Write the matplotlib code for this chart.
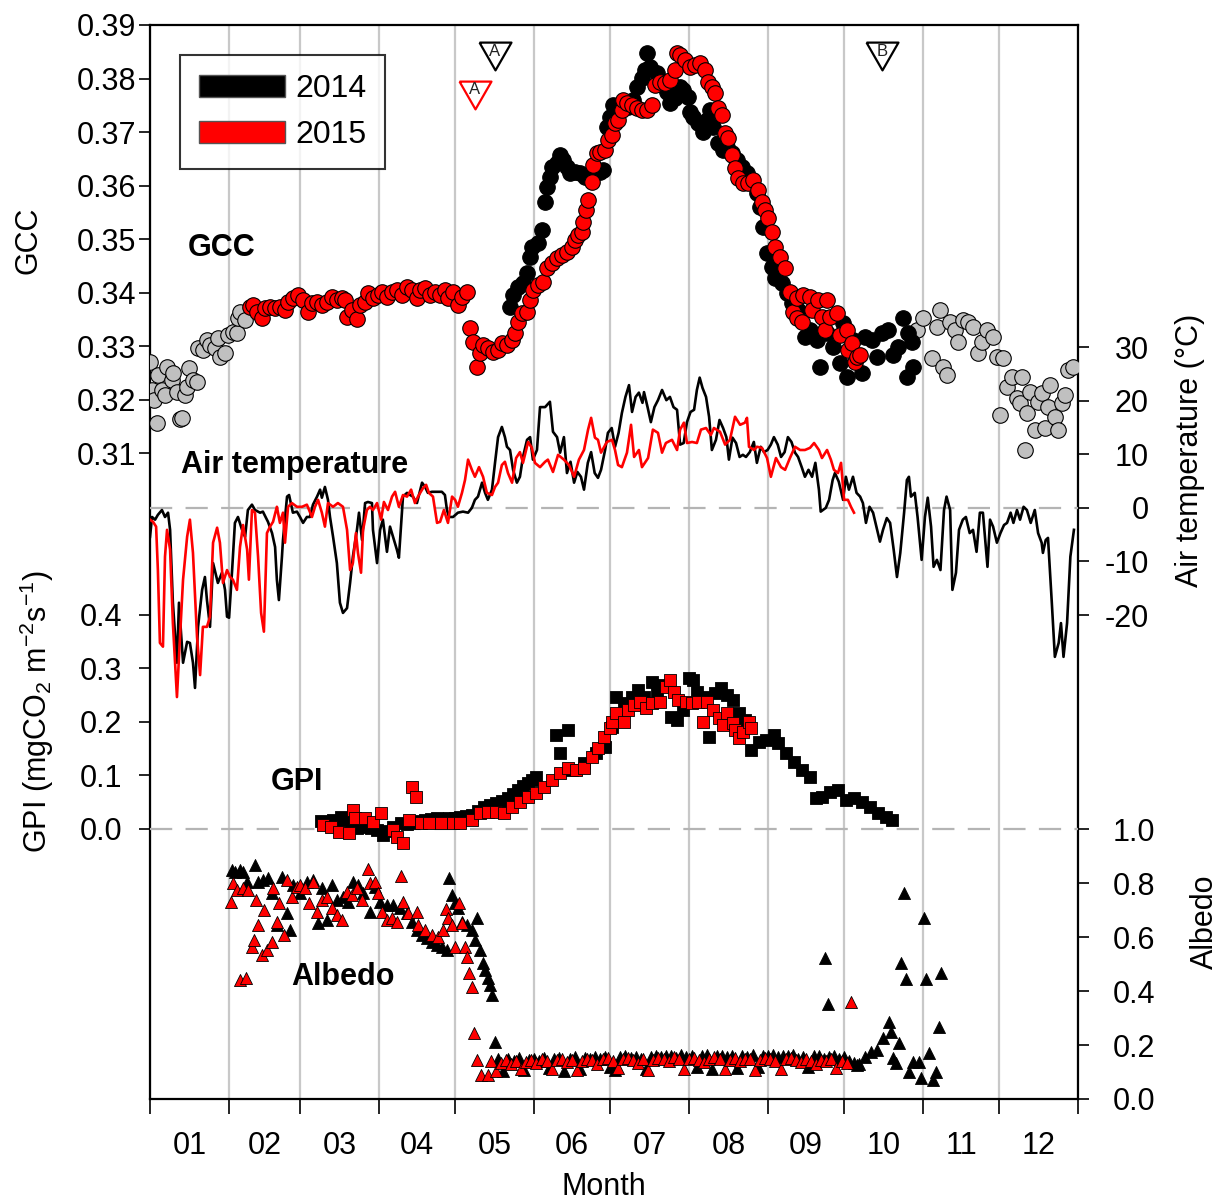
import numpy as np
import matplotlib
matplotlib.use("Agg")
import matplotlib.pyplot as plt
import matplotlib.patches as mpatches

plt.rcParams["font.family"] = ["Liberation Sans", "DejaVu Sans"]
plt.rcParams["mathtext.default"] = "regular"
plt.rcParams["axes.unicode_minus"] = False

# ---- data (day of year, value) ----
month_edges = [0, 31, 59, 90, 120, 151, 181, 212, 243, 273, 304, 334, 365]
month_mid = [15.5, 45, 74.5, 105, 135.5, 166, 196.5, 227.5, 258, 288.5, 319, 349.5]
month_labels = ["01", "02", "03", "04", "05", "06", "07", "08", "09", "10", "11", "12"]

# GCC, 2014 outside season (grey)
gcc_grey = [(0.0, 0.3270), (0.8, 0.3218), (1.6, 0.3199), (2.8, 0.3156), (3.1, 0.3246), (4.7, 0.3218),
            (5.9, 0.3208), (6.7, 0.3261), (8.7, 0.3236), (9.0, 0.3250), (10.6, 0.3214), (11.8, 0.3164),
            (12.6, 0.3165), (13.8, 0.3208), (14.6, 0.3223), (15.3, 0.3259), (16.9, 0.3236), (18.5, 0.3233),
            (18.9, 0.3296), (20.8, 0.3293), (22.4, 0.3311), (23.6, 0.3302), (25.6, 0.3296), (26.7, 0.3315),
            (27.5, 0.3279), (29.5, 0.3287), (30.7, 0.3321), (32.6, 0.3326), (34.2, 0.3324), (34.6, 0.3352),
            (35.4, 0.3364), (37.4, 0.3349),
            (301.7, 0.3330), (304.0, 0.3352), (307.6, 0.3278), (309.5, 0.3336), (310.7, 0.3367), (311.9, 0.3261),
            (313.5, 0.3246), (314.7, 0.3345), (316.6, 0.3330), (317.8, 0.3307), (319.8, 0.3349), (321.7, 0.3345),
            (323.7, 0.3336), (325.7, 0.3287), (327.2, 0.3307), (329.2, 0.3330), (331.6, 0.3317), (333.1, 0.3279),
            (335.5, 0.3278), (334.3, 0.3171), (337.1, 0.3223), (339.0, 0.3242), (341.0, 0.3203), (342.2, 0.3193),
            (343.0, 0.3242), (344.1, 0.3106), (344.9, 0.3175), (346.1, 0.3214), (348.1, 0.3143), (349.3, 0.3195),
            (350.8, 0.3212), (352.0, 0.3147), (353.2, 0.3186), (354.0, 0.3227), (355.9, 0.3167), (357.1, 0.3143),
            (358.7, 0.3193), (359.9, 0.3208), (361.0, 0.3255), (363.0, 0.3261)]

gcc_2014 = [(141.6, 0.3373), (142.8, 0.3395), (144.7, 0.3410), (146.7, 0.3418), (148.3, 0.3436), (149.5, 0.3466),
            (150.2, 0.3485), (152.6, 0.3493), (154.2, 0.3517), (155.4, 0.3569), (156.1, 0.3597), (157.3, 0.3616),
            (158.1, 0.3635), (160.1, 0.3642), (161.3, 0.3657), (162.4, 0.3648), (164.0, 0.3635), (165.2, 0.3623),
            (167.2, 0.3625), (169.1, 0.3623), (171.1, 0.3616), (173.1, 0.3616), (175.0, 0.3623), (177.0, 0.3625),
            (178.2, 0.3629), (179.7, 0.3709), (180.9, 0.3728), (182.1, 0.3750), (184.1, 0.3745), (186.0, 0.3754),
            (188.0, 0.3747), (190.0, 0.3760), (191.5, 0.3784), (193.5, 0.3801), (194.7, 0.3816), (195.5, 0.3848),
            (196.7, 0.3821), (199.4, 0.3810), (201.4, 0.3788), (203.3, 0.3775), (204.5, 0.3754), (206.5, 0.3764),
            (208.5, 0.3784), (209.6, 0.3779), (211.6, 0.3765), (212.4, 0.3737), (213.6, 0.3728), (215.5, 0.3717),
            (217.5, 0.3700), (219.1, 0.3722), (220.3, 0.3741), (221.4, 0.3709), (223.4, 0.3679), (225.4, 0.3666),
            (226.9, 0.3672), (228.9, 0.3661), (230.9, 0.3648), (232.8, 0.3635), (234.8, 0.3623), (236.8, 0.3605),
            (238.7, 0.3586), (239.9, 0.3560), (241.1, 0.3522), (242.7, 0.3474), (244.6, 0.3448), (245.8, 0.3427),
            (248.6, 0.3418), (250.5, 0.3399), (252.5, 0.3380), (254.9, 0.3367), (257.6, 0.3317), (259.6, 0.3330),
            (262.3, 0.3311), (263.5, 0.3261), (266.3, 0.3324), (268.6, 0.3298), (271.4, 0.3268), (272.6, 0.3343),
            (274.1, 0.3242), (276.5, 0.3311), (280.0, 0.3250), (281.2, 0.3317), (284.0, 0.3311), (285.9, 0.3279),
            (287.9, 0.3324), (290.3, 0.3330), (292.2, 0.3283), (294.2, 0.3298), (296.2, 0.3352), (298.1, 0.3324),
            (299.7, 0.3307), (300.1, 0.3261), (297.7, 0.3242)]

gcc_2015 = [(39.3, 0.3373), (40.5, 0.3377), (42.1, 0.3364), (44.1, 0.3352), (45.2, 0.3371), (47.2, 0.3373),
            (49.2, 0.3371), (51.1, 0.3373), (53.1, 0.3367), (54.3, 0.3382), (56.2, 0.3390), (58.2, 0.3395),
            (60.2, 0.3386), (62.1, 0.3364), (63.7, 0.3380), (65.7, 0.3382), (67.6, 0.3377), (69.6, 0.3382),
            (71.6, 0.3392), (73.5, 0.3386), (75.5, 0.3390), (76.7, 0.3386), (77.5, 0.3354), (79.4, 0.3367),
            (81.4, 0.3350), (82.6, 0.3377), (84.6, 0.3382), (85.7, 0.3399), (87.7, 0.3390), (89.7, 0.3395),
            (91.2, 0.3401), (93.2, 0.3392), (95.2, 0.3401), (97.1, 0.3405), (99.1, 0.3395), (101.1, 0.3410),
            (103.0, 0.3405), (105.0, 0.3390), (106.2, 0.3405), (108.2, 0.3408), (110.1, 0.3395), (112.1, 0.3401),
            (114.1, 0.3395), (116.0, 0.3405), (117.2, 0.3390), (119.2, 0.3401), (121.1, 0.3377), (122.7, 0.3392),
            (124.7, 0.3401), (125.9, 0.3334), (127.0, 0.3307), (128.6, 0.3261), (129.8, 0.3287), (131.0, 0.3302),
            (132.9, 0.3296), (134.9, 0.3289), (136.9, 0.3293), (138.4, 0.3306), (140.4, 0.3302), (142.4, 0.3311),
            (143.6, 0.3324), (144.7, 0.3345), (146.3, 0.3362), (148.3, 0.3364), (149.5, 0.3386), (150.6, 0.3405),
            (152.6, 0.3414), (154.6, 0.3420), (156.1, 0.3446), (158.1, 0.3455), (160.1, 0.3464), (162.0, 0.3470),
            (164.0, 0.3476), (166.0, 0.3485), (167.2, 0.3498), (168.3, 0.3507), (169.9, 0.3513), (170.3, 0.3532),
            (171.5, 0.3554), (172.3, 0.3573), (173.8, 0.3607), (174.2, 0.3638), (175.8, 0.3661), (177.0, 0.3663),
            (179.0, 0.3666), (180.1, 0.3685), (181.7, 0.3694), (182.9, 0.3717), (184.1, 0.3722), (185.6, 0.3741),
            (186.0, 0.3760), (187.6, 0.3754), (189.6, 0.3750), (191.5, 0.3745), (193.5, 0.3741), (195.5, 0.3741),
            (197.4, 0.3750), (198.6, 0.3788), (200.6, 0.3793), (202.6, 0.3792), (204.5, 0.3797), (206.5, 0.3816),
            (207.3, 0.3848), (208.5, 0.3844), (210.4, 0.3835), (212.4, 0.3821), (214.4, 0.3825), (216.3, 0.3829),
            (218.3, 0.3816), (219.5, 0.3793), (221.0, 0.3784), (222.2, 0.3773), (223.4, 0.3745), (225.0, 0.3732),
            (226.2, 0.3698), (227.3, 0.3689), (228.9, 0.3657), (230.1, 0.3633), (231.3, 0.3614), (233.2, 0.3605),
            (235.2, 0.3605), (237.2, 0.3610), (239.1, 0.3592), (240.7, 0.3569), (241.9, 0.3554), (243.1, 0.3539),
            (244.6, 0.3513), (245.8, 0.3485), (247.8, 0.3466), (249.8, 0.3446), (251.7, 0.3401), (252.9, 0.3364),
            (254.4, 0.3390), (254.6, 0.3352), (256.4, 0.3345), (256.8, 0.3395), (259.6, 0.3392), (260.4, 0.3367),
            (262.7, 0.3386), (264.3, 0.3354), (265.5, 0.3330), (266.3, 0.3386), (267.5, 0.3354), (270.2, 0.3362),
            (271.4, 0.3321), (274.1, 0.3330), (274.5, 0.3293), (276.1, 0.3306), (277.3, 0.3270), (278.1, 0.3279),
            (279.3, 0.3283)]

# daily air temperature (deg C)
temp_2014 = [(0.0, -5.4), (0.8, -1.7), (2.0, -2.2), (3.1, -1.3), (4.7, -0.4), (5.9, -1.7), (7.1, -0.9), (7.9, -4.1),
             (9.0, -17.7), (10.6, -28.9), (11.4, -17.7), (13.0, -28.9), (14.6, -25.0), (15.7, -25.2), (16.9, -28.9),
             (17.7, -33.6), (18.9, -22.2), (20.5, -15.3), (21.6, -12.9), (22.4, -17.2), (23.6, -22.2), (24.8, -10.3),
             (26.7, -14.0), (28.3, -12.1), (29.5, -15.3), (30.3, -20.3), (31.1, -20.5), (32.3, -11.6), (33.4, -2.8),
             (34.6, -1.7), (36.2, -4.1), (37.4, -5.4), (38.5, -0.4), (40.1, 0.6), (41.3, -0.4), (43.3, -0.9),
             (44.4, -0.7), (46.4, -2.6), (48.0, -4.7), (49.2, -7.3), (49.9, -13.4), (50.7, -17.2), (51.9, -9.1),
             (52.3, -6.0), (53.9, 2.1), (54.7, 2.4), (56.2, -0.9), (57.8, -0.7), (59.0, -1.7), (60.2, -2.8),
             (61.7, -1.7), (62.9, -1.7), (64.1, 0.6), (65.7, 2.1), (66.9, 3.4), (67.6, 1.9), (68.8, 3.9), (70.0, 1.5),
             (70.8, -1.7), (72.0, -5.4), (73.5, -10.3), (74.7, -17.7), (75.9, -19.6), (77.5, -18.7), (78.7, -14.0),
             (79.8, -9.1), (81.4, -4.1), (82.2, -0.9), (83.4, -6.0), (84.6, 0.9), (85.7, 1.1), (87.3, 0.9),
             (87.7, -4.1), (89.3, -10.3), (90.5, -4.1), (91.6, -2.2), (93.2, -8.2), (94.4, -3.5), (95.6, -5.4),
             (97.1, -7.8), (97.9, -9.3), (99.5, 2.1), (101.1, 2.8), (102.3, 2.4), (103.4, 2.1), (105.0, 0.9),
             (107.0, 4.7), (108.2, 3.9), (109.3, 2.8), (110.9, 3.0), (112.9, 3.0), (114.8, 3.0), (116.0, 2.4),
             (116.8, -0.4), (117.6, -1.7), (119.2, -1.7), (121.1, -0.9), (123.1, -0.7), (125.1, -0.9), (126.6, 0.0),
             (127.8, 1.5), (129.0, 2.1), (130.6, 4.7), (131.8, 2.8), (132.9, 1.5), (134.5, 3.4), (135.7, 8.4),
             (136.9, 13.2), (138.4, 15.1), (139.6, 13.2), (140.4, 11.4), (141.6, 10.8), (142.8, 7.1), (144.3, 4.7),
             (145.5, 5.8), (146.7, 9.5), (148.3, 12.7), (149.5, 13.2), (150.6, 9.0), (152.2, 10.8), (153.4, 18.8),
             (155.4, 18.8), (157.3, 19.8), (158.5, 14.2), (160.1, 13.2), (161.3, 10.3), (162.8, 13.2), (164.0, 6.5),
             (165.4, 8.6), (166.8, 4.7), (168.1, 6.7), (169.5, 5.8), (170.7, 3.4), (172.2, 8.4), (173.5, 10.4),
             (174.9, 6.5), (176.2, 5.6), (177.4, 7.1), (179.0, 10.8), (180.1, 14.0), (181.6, 14.9), (182.9, 11.4),
             (184.3, 14.0), (185.6, 17.7), (187.0, 20.7), (188.4, 22.9), (189.6, 17.9), (191.0, 20.7), (192.3, 21.5),
             (193.7, 19.6), (194.3, 21.6), (195.7, 18.8), (197.0, 16.0), (198.4, 18.8), (199.8, 20.1), (201.4, 22.0),
             (203.1, 20.1), (204.5, 20.7), (205.9, 18.8), (207.3, 18.3), (208.5, 11.8), (209.9, 12.1), (211.2, 16.0),
             (212.6, 17.9), (214.0, 18.3), (215.1, 22.0), (216.2, 24.3), (217.3, 22.4), (218.7, 20.7), (219.9, 17.0),
             (221.0, 10.8), (222.6, 12.7), (224.0, 16.4), (225.4, 14.9), (226.7, 13.2), (227.7, 9.0), (229.1, 13.1),
             (230.5, 12.1), (231.9, 9.5), (233.2, 9.9), (234.4, 9.5), (235.9, 10.4), (237.5, 12.3), (238.7, 8.4),
             (240.2, 11.4), (241.5, 10.4), (242.9, 10.8), (244.2, 11.8), (245.4, 13.2), (246.9, 11.8), (248.2, 9.5),
             (249.6, 10.4), (250.9, 13.2), (252.3, 12.3), (253.7, 10.3), (254.9, 9.5), (256.4, 7.5), (257.6, 5.8),
             (259.0, 7.1), (260.4, 5.8), (261.7, 8.4), (263.1, 3.4), (263.8, -0.7), (265.8, 0.0), (267.1, 1.5),
             (268.5, 5.2), (269.4, 6.5), (270.9, 4.9), (272.6, 1.5), (273.7, 5.8), (274.9, 3.4), (276.5, 5.8),
             (277.9, 2.8), (279.3, 2.1), (280.4, 0.9), (281.6, -2.8), (283.0, 0.2), (284.4, -0.9), (285.7, -3.5),
             (287.1, -6.3), (288.3, -4.1), (289.8, -1.9), (291.1, -2.8), (292.5, -7.8), (293.8, -12.9), (295.1, -8.4),
             (296.6, -0.9), (297.7, 5.2), (298.5, 5.8), (299.3, 2.1), (300.8, 2.8), (301.9, -1.7), (303.5, -9.7),
             (304.8, -1.7), (305.9, 1.9), (307.2, -3.5), (308.2, -11.0), (309.5, -9.7), (310.9, -11.6), (312.3, -0.4),
             (313.3, 2.1), (314.7, -0.4), (315.6, -15.3), (317.0, -12.1), (318.2, -4.1), (319.7, -2.2), (320.9, -1.7),
             (322.4, -4.7), (323.7, -4.1), (325.1, -8.2), (326.4, -0.9), (327.6, -0.9), (329.4, -11.0), (330.4, -2.2),
             (331.6, -3.5), (333.1, -6.5), (334.5, -4.7), (335.9, -3.2), (337.1, -2.8), (338.5, -0.9), (339.6, -2.8),
             (341.0, -0.4), (342.2, -2.2), (343.6, 0.2), (344.9, -0.4), (346.4, -2.8), (348.0, -0.4), (349.3, -4.7),
             (350.7, -6.5), (351.2, -8.4), (352.3, -6.0), (353.2, -5.6), (354.7, -17.7), (355.9, -27.8),
             (357.4, -25.2), (358.3, -21.5), (359.3, -27.8), (360.7, -21.5), (362.0, -9.1), (363.4, -4.1)]

temp_2015 = [(0.0, -2.2), (1.2, -2.6), (2.4, -3.5), (3.1, -11.6), (3.9, -25.2), (5.1, -25.9), (5.9, -9.1), (6.7, -4.1),
             (7.9, -7.8), (9.0, -21.5), (10.6, -35.3), (11.8, -24.1), (13.0, -13.4), (14.6, -5.4), (15.7, -2.2),
             (16.9, -8.4), (18.5, -24.1), (19.7, -31.2), (20.8, -22.2), (22.4, -22.2), (23.6, -20.3), (24.8, -6.5),
             (26.4, -3.7), (27.5, -6.5), (28.7, -14.0), (30.3, -11.6), (31.5, -12.9), (32.6, -13.4), (34.2, -15.3),
             (35.4, -7.3), (36.6, -3.2), (38.2, -7.8), (38.9, -13.4), (40.1, -0.4), (41.3, -0.9), (42.5, -9.1),
             (43.7, -19.6), (44.8, -23.1), (46.0, -4.7), (47.2, -3.5), (48.4, -2.6), (49.9, 0.2), (51.1, -2.8),
             (52.3, -0.9), (53.1, -6.5), (54.3, 0.2), (55.8, 0.9), (57.8, 0.2), (59.8, 0.2), (61.7, 0.6), (63.7, -1.7),
             (64.9, 0.2), (66.1, 1.5), (67.6, -0.9), (68.8, -3.5), (70.0, 0.9), (72.0, 0.2), (73.9, 0.9), (75.9, 0.2),
             (77.5, -4.1), (78.7, -11.6), (79.8, -10.3), (81.0, -4.7), (81.8, -8.4), (83.0, -12.1), (83.8, -4.1),
             (85.3, -0.4), (86.5, 0.2), (87.7, -0.4), (89.3, 0.9), (90.9, -2.2), (92.0, 1.1), (93.6, -0.4),
             (95.2, 2.1), (96.4, 3.0), (97.9, 0.2), (99.5, 2.4), (101.1, 2.1), (102.7, 3.4), (104.2, 0.9),
             (105.4, 2.1), (107.4, 3.7), (108.6, 4.3), (109.7, 2.8), (111.3, 2.1), (112.9, -2.8), (114.1, -2.6),
             (115.6, -0.4), (117.2, -2.8), (118.8, 2.1), (120.0, 1.5), (121.1, 0.2), (122.7, 2.8), (123.9, 5.2),
             (125.1, 9.0), (126.6, 7.1), (127.8, 5.8), (129.4, 7.6), (131.0, 5.8), (132.5, 2.8), (134.5, 2.4),
             (135.7, 3.9), (136.9, 4.7), (138.4, 8.0), (139.6, 8.6), (140.8, 6.5), (142.4, 4.7), (144.0, 9.3),
             (145.5, 10.4), (146.7, 8.4), (148.7, 12.3), (150.2, 11.2), (151.4, 8.4), (153.4, 7.6), (155.4, 8.6),
             (156.5, 9.0), (158.5, 6.7), (160.5, 9.9), (162.8, 9.0), (164.8, 8.0), (166.8, 5.8), (168.7, 9.0),
             (170.7, 10.8), (172.3, 14.6), (173.5, 16.8), (175.0, 13.1), (176.2, 12.7), (177.4, 10.3), (179.7, 12.3),
             (181.7, 12.7), (182.9, 10.8), (184.1, 8.0), (185.6, 7.6), (187.6, 10.3), (189.2, 15.5), (190.4, 9.5),
             (192.3, 10.8), (193.5, 7.6), (195.9, 9.3), (197.8, 14.6), (199.8, 14.0), (201.4, 10.3), (202.9, 12.1),
             (205.3, 12.7), (207.3, 10.8), (208.5, 14.6), (210.0, 15.9), (211.2, 12.1), (213.2, 12.3), (215.1, 12.1),
             (216.7, 14.6), (218.7, 14.9), (220.6, 13.6), (221.8, 14.9), (224.2, 14.2), (226.2, 11.8), (228.1, 12.7),
             (230.1, 17.0), (232.1, 15.5), (234.0, 15.9), (234.8, 16.8), (235.6, 11.4), (237.6, 10.8), (238.7, 11.4),
             (240.7, 11.2), (242.7, 9.3), (244.2, 5.8), (246.2, 9.3), (248.2, 7.6), (249.8, 7.1), (251.7, 9.3),
             (253.7, 11.4), (255.7, 10.8), (257.6, 10.8), (259.6, 11.2), (261.2, 12.1), (263.1, 10.8), (264.3, 9.3),
             (266.3, 10.8), (267.8, 9.0), (269.0, 7.1), (270.6, 6.5), (271.8, 8.4), (273.0, 1.5), (274.5, 1.5),
             (275.7, 0.2), (276.9, -0.9)]

# GPI (mgCO2 m-2 s-1)
gpi_2014 = [(67.3, 0.014), (69.5, 0.012), (72.0, 0.017), (75.1, 0.022), (76.8, 0.015), (78.3, 0.011),
            (80.0, 0.006), (81.4, 0.002), (84.6, 0.004), (87.0, 0.001), (89.3, -0.002), (91.6, -0.011),
            (93.5, -0.004), (95.6, 0.004), (98.7, 0.011), (101.0, 0.009), (103.4, 0.011), (106.0, 0.014),
            (108.2, 0.017), (110.5, 0.018), (112.9, 0.020), (115.2, 0.019), (117.6, 0.020), (119.8, 0.021),
            (121.9, 0.022), (124.2, 0.024), (126.6, 0.026), (129.0, 0.033), (131.4, 0.041), (133.8, 0.045),
            (136.1, 0.049), (138.5, 0.053), (140.8, 0.057), (142.8, 0.065), (144.7, 0.073), (146.7, 0.080),
            (148.7, 0.086), (150.2, 0.092), (151.8, 0.098), (159.7, 0.176), (164.4, 0.185), (161.3, 0.142),
            (166.0, 0.110), (170.7, 0.123), (175.4, 0.142), (179.0, 0.153), (181.7, 0.191), (183.3, 0.247),
            (186.4, 0.235), (189.6, 0.247), (191.9, 0.260), (194.3, 0.247), (197.4, 0.275), (199.4, 0.256),
            (201.8, 0.269), (204.9, 0.209), (207.3, 0.204), (209.6, 0.222), (212.0, 0.282), (213.6, 0.278),
            (215.1, 0.256), (217.5, 0.247), (219.9, 0.172), (222.2, 0.254), (224.6, 0.263), (226.9, 0.250),
            (229.3, 0.241), (231.7, 0.216), (234.0, 0.204), (236.4, 0.148), (239.5, 0.163), (242.3, 0.166),
            (245.4, 0.176), (247.0, 0.161), (250.1, 0.142), (253.3, 0.125), (256.4, 0.110), (259.6, 0.098),
            (261.9, 0.058), (264.3, 0.060), (267.5, 0.069), (270.6, 0.073), (273.7, 0.054), (276.9, 0.058),
            (280.0, 0.050), (283.2, 0.041), (286.3, 0.030), (289.5, 0.022), (291.8, 0.017)]

gpi_2015 = [(68.0, 0.007), (71.2, 0.004), (74.3, -0.006), (78.3, -0.007), (79.8, 0.036), (80.6, 0.021),
            (84.6, 0.021), (87.7, 0.013), (90.9, 0.030), (95.6, -0.002), (97.1, -0.015), (99.5, -0.027),
            (101.9, 0.017), (103.0, 0.079), (104.6, 0.060), (106.6, 0.011), (109.7, 0.011), (114.5, 0.011),
            (119.2, 0.011), (121.9, 0.011), (126.6, 0.017), (129.8, 0.030), (132.9, 0.032), (136.1, 0.032),
            (139.2, 0.030), (142.4, 0.041), (145.5, 0.050), (148.7, 0.060), (151.8, 0.067), (155.0, 0.079),
            (158.1, 0.092), (161.3, 0.105), (164.4, 0.114), (167.6, 0.110), (170.7, 0.114), (173.8, 0.135),
            (176.2, 0.151), (178.6, 0.172), (180.9, 0.189), (181.7, 0.200), (183.3, 0.217), (186.4, 0.200),
            (188.0, 0.222), (190.4, 0.232), (192.7, 0.237), (195.1, 0.226), (197.4, 0.235), (200.6, 0.237),
            (202.9, 0.265), (204.5, 0.279), (206.1, 0.256), (207.7, 0.241), (210.8, 0.237), (213.2, 0.235),
            (215.5, 0.237), (217.5, 0.200), (219.1, 0.237), (221.4, 0.222), (223.8, 0.207), (225.4, 0.194),
            (226.9, 0.217), (229.3, 0.198), (230.1, 0.185), (231.7, 0.170), (233.2, 0.181), (235.6, 0.200),
            (236.4, 0.189)]

# albedo
albedo_2014 = [(32.3, 0.848), (33.4, 0.841), (35.4, 0.848), (36.6, 0.841), (38.2, 0.804), (41.3, 0.867),
               (42.5, 0.804), (44.4, 0.811), (46.4, 0.819), (48.0, 0.763), (49.9, 0.644), (51.9, 0.822),
               (53.9, 0.689), (55.1, 0.626), (56.2, 0.793), (59.0, 0.763), (61.7, 0.804), (64.1, 0.811),
               (66.1, 0.652), (67.6, 0.781), (69.6, 0.663), (71.6, 0.793), (73.5, 0.737), (75.9, 0.748),
               (77.9, 0.730), (79.8, 0.804), (81.8, 0.793), (83.8, 0.763), (86.5, 0.693), (88.5, 0.785),
               (90.5, 0.730), (93.2, 0.719), (95.6, 0.719), (98.3, 0.707), (101.1, 0.689), (103.0, 0.656),
               (105.0, 0.626), (107.0, 0.607), (108.9, 0.596), (110.9, 0.581), (112.9, 0.570), (114.8, 0.563),
               (116.8, 0.552), (117.6, 0.819), (118.8, 0.756), (120.0, 0.726), (121.1, 0.707), (122.7, 0.656),
               (124.7, 0.644), (126.6, 0.626), (128.6, 0.670), (127.8, 0.589), (129.8, 0.552), (131.0, 0.504),
               (131.8, 0.478), (132.9, 0.448), (133.7, 0.422), (134.5, 0.385), (135.7, 0.211),
               (137, 0.150), (139, 0.105), (141, 0.148), (143, 0.140), (145, 0.152), (147, 0.108), (149, 0.145),
               (151, 0.150), (153, 0.142), (155, 0.152), (157, 0.115), (159, 0.148), (161, 0.153), (163, 0.105),
               (165, 0.150), (167, 0.155), (169, 0.112), (171, 0.152), (173, 0.148), (175, 0.155), (177, 0.150),
               (179, 0.157), (181, 0.118), (183, 0.108), (185, 0.155), (187, 0.158), (189, 0.152), (191, 0.156),
               (193, 0.150), (195, 0.110), (197, 0.155), (199, 0.160), (201, 0.154), (203, 0.158), (205, 0.160),
               (207, 0.152), (209, 0.162), (211, 0.155), (213, 0.158), (215, 0.120), (217, 0.160), (219, 0.163),
               (221, 0.112), (223, 0.158), (225, 0.160), (227, 0.155), (229, 0.158), (231, 0.115), (233, 0.160),
               (235, 0.155), (237, 0.162), (239, 0.118), (241, 0.160), (243, 0.158), (245, 0.163), (247, 0.155),
               (249, 0.160), (251, 0.158), (253, 0.162), (255, 0.150), (257, 0.155), (259, 0.120), (261, 0.158),
               (263, 0.160), (265, 0.150), (267, 0.155), (269, 0.158), (271, 0.148), (273, 0.155), (275, 0.140),
               (277, 0.135), (279, 0.128),
               (265.5, 0.522), (266.7, 0.352), (278.1, 0.126), (281.2, 0.156), (283.6, 0.174), (285.9, 0.181),
               (288.3, 0.226), (290.7, 0.285), (291.4, 0.248), (292.2, 0.152), (293.4, 0.133), (294.6, 0.207),
               (295.4, 0.504), (296.6, 0.763), (297.3, 0.444), (298.5, 0.100), (300.1, 0.137), (302.5, 0.137),
               (303.2, 0.078), (304.4, 0.670), (305.2, 0.444), (306.4, 0.170), (308.0, 0.070), (309.1, 0.100),
               (310.3, 0.267), (311.1, 0.467)]

albedo_2015 = [(31.9, 0.730), (32.6, 0.800), (34.2, 0.774), (35.4, 0.441), (37.8, 0.448), (36.6, 0.781),
               (38.5, 0.774), (40.1, 0.563), (40.9, 0.589), (41.7, 0.737), (42.5, 0.644), (44.1, 0.533),
               (44.8, 0.700), (46.0, 0.552), (48.0, 0.581), (48.4, 0.781), (49.9, 0.656), (50.7, 0.726),
               (52.7, 0.607), (53.9, 0.811), (55.8, 0.748), (57.8, 0.785), (59.0, 0.793), (61.0, 0.781),
               (62.5, 0.726), (64.1, 0.804), (65.7, 0.693), (67.6, 0.737), (69.6, 0.748), (71.6, 0.707),
               (73.5, 0.681), (75.5, 0.663), (77.5, 0.767), (79.4, 0.756), (81.4, 0.781), (83.4, 0.737),
               (85.7, 0.852), (86.5, 0.800), (88.5, 0.804), (89.7, 0.763), (91.2, 0.693), (93.2, 0.663),
               (95.2, 0.670), (97.1, 0.656), (98.7, 0.826), (99.5, 0.730), (101.5, 0.689), (105.0, 0.693),
               (105.4, 0.644), (108.2, 0.626), (110.9, 0.607), (113.3, 0.600), (115.2, 0.626), (116.4, 0.704),
               (117.2, 0.670), (118.8, 0.644), (120.0, 0.563), (121.5, 0.726), (122.7, 0.652), (123.9, 0.563),
               (124.7, 0.526), (125.5, 0.467), (126.6, 0.415), (127.4, 0.244), (128.6, 0.144), (130.2, 0.089),
               (132.9, 0.089),
               (134, 0.140), (136, 0.105), (138, 0.135), (140, 0.145), (142, 0.128), (144, 0.142), (146, 0.110),
               (148, 0.138), (150, 0.146), (152, 0.132), (154, 0.148), (156, 0.140), (158, 0.112), (160, 0.145),
               (162, 0.150), (164, 0.138), (166, 0.145), (168, 0.108), (170, 0.140), (172, 0.150), (174, 0.146),
               (176, 0.130), (178, 0.148), (180, 0.152), (182, 0.140), (184, 0.115), (186, 0.148), (188, 0.152),
               (190, 0.145), (192, 0.135), (194, 0.150), (196, 0.108), (198, 0.146), (200, 0.152), (202, 0.148),
               (204, 0.140), (206, 0.155), (208, 0.150), (210, 0.112), (212, 0.148), (214, 0.152), (216, 0.145),
               (218, 0.138), (220, 0.150), (222, 0.155), (224, 0.148), (226, 0.110), (228, 0.145), (230, 0.152),
               (232, 0.140), (234, 0.150), (236, 0.148), (238, 0.108), (240, 0.145), (242, 0.152), (244, 0.150),
               (246, 0.142), (248, 0.110), (250, 0.148), (252, 0.152), (254, 0.145), (256, 0.138), (258, 0.150),
               (260, 0.142), (262, 0.130), (264, 0.146), (266, 0.140), (268, 0.148), (270, 0.115), (272, 0.142),
               (274, 0.135), (275.7, 0.359)]

# event markers: (day, label, colour)
events = [(135.6, "A", "black"), (127.7, "A", "red"), (288.0, "B", "black")]


def cols(pairs):
    a = np.array(pairs, dtype=float)
    return a[:, 0], a[:, 1]


W, H = 1218, 1202
fig = plt.figure(figsize=(W / 100, H / 100), dpi=100)


def fx(px):
    return px / W


def fy(py):
    return 1 - py / H


ax = fig.add_axes([fx(150), fy(1099), fx(1078) - fx(150), fy(25) - fy(1099)])
ax.set_xlim(0, 365)
ax.set_ylim(0.1893, 0.39)

ax_t = ax.twinx()
ax_t.set_ylim(-110.3, 90.1)
ax_g = ax.twinx()
ax_g.set_ylim(-0.5047, 1.5028)
ax_a = ax.twinx()
ax_a.set_ylim(0.0, 3.978)

for a in (ax_t, ax_g, ax_a):
    for s in a.spines.values():
        s.set_visible(False)

for s in ax.spines.values():
    s.set_linewidth(1.6)
    s.set_color("black")

TS = 22

# month grid and ticks
ax.set_xticks(month_edges)
ax.set_xticklabels([""] * len(month_edges))
ax.set_xticks(month_mid, minor=True)
ax.set_xticklabels(month_labels, minor=True, fontsize=TS)
ax.tick_params(axis="x", which="major", direction="out", length=11, width=1.2)
ax.tick_params(axis="x", which="minor", length=0, pad=23)
ax.grid(axis="x", which="major", color="#c8c8c8", lw=1.6, zorder=0)
ax.set_axisbelow(True)

# GCC
ax.set_yticks([0.31, 0.32, 0.33, 0.34, 0.35, 0.36, 0.37, 0.38, 0.39])
ax.set_yticklabels(["0.31", "0.32", "0.33", "0.34", "0.35", "0.36", "0.37", "0.38", "0.39"])
ax.tick_params(axis="y", direction="out", length=8, width=1.2, labelsize=TS, pad=2)

x, y = cols(gcc_grey)
ax.scatter(x, y, s=125, c="#c0c0c0", edgecolors="black", linewidths=0.8, zorder=3)
x, y = cols(gcc_2014)
ax.scatter(x, y, s=125, c="black", edgecolors="black", linewidths=0.8, zorder=3)
x, y = cols(gcc_2015)
ax.scatter(x, y, s=125, c="red", edgecolors="black", linewidths=0.8, zorder=4)

for d, lab, c in events:
    ax.plot([d], [0.3842 if c == "black" else 0.3770],
            marker=[(-1, 0.87), (1, 0.87), (0, -0.87), (-1, 0.87)], ms=23,
            mfc="white", mec=c, mew=1.6, clip_on=False, zorder=6)
    ax.text(d, 0.3851 if c == "black" else 0.3779, lab, ha="center", va="center",
            fontsize=12, color="#222222", zorder=7)

# air temperature
ax_t.axhline(0, color="#b4b4b4", lw=1.6, dashes=(10, 6), zorder=1)
x, y = cols(temp_2014)
ax_t.plot(x, y, color="black", lw=1.9, zorder=2)
x, y = cols(temp_2015)
ax_t.plot(x, y, color="red", lw=1.9, zorder=3)
ax_t.set_yticks([-20, -10, 0, 10, 20, 30])
ax_t.tick_params(axis="y", direction="out", length=8, width=1.2, labelsize=TS, pad=43)
for lab in ax_t.get_yticklabels():
    lab.set_horizontalalignment("right")

# GPI
ax_g.yaxis.set_ticks_position("left")
ax_g.axhline(0, color="#b4b4b4", lw=1.6, dashes=(10, 6), zorder=1)
x, y = cols(gpi_2014)
ax_g.scatter(x, y, s=75, marker="s", c="black", edgecolors="black", linewidths=0.6, zorder=2)
x, y = cols(gpi_2015)
ax_g.scatter(x, y, s=75, marker="s", c="red", edgecolors="black", linewidths=0.6, zorder=3)
ax_g.set_yticks([0.0, 0.1, 0.2, 0.3, 0.4])
ax_g.set_yticklabels(["0.0", "0.1", "0.2", "0.3", "0.4"])
ax_g.tick_params(axis="y", direction="out", length=8, width=1.2, labelsize=TS, pad=12)

# albedo
x, y = cols(albedo_2014)
ax_a.scatter(x, y, s=75, marker="^", c="black", edgecolors="black", linewidths=0.6, zorder=2)
x, y = cols(albedo_2015)
ax_a.scatter(x, y, s=75, marker="^", c="red", edgecolors="black", linewidths=0.6, zorder=3)
ax_a.set_yticks([0.0, 0.2, 0.4, 0.6, 0.8, 1.0])
ax_a.set_yticklabels(["0.0", "0.2", "0.4", "0.6", "0.8", "1.0"])
ax_a.tick_params(axis="y", direction="out", length=8, width=1.2, labelsize=TS, pad=17)

# axis titles
fig.text(fx(28), fy(240), "GCC", rotation=90, ha="center", va="center", fontsize=22)
fig.text(fx(37), fy(712), "GPI (mgCO$_2$ m$^{-2}$s$^{-1}$)", rotation=90, ha="center", va="center",
         fontsize=22)
fig.text(fx(1190), fy(450), "Air temperature (°C)", rotation=90, ha="center", va="center", fontsize=22)
fig.text(fx(1205), fy(922), "Albedo", rotation=90, ha="center", va="center", fontsize=22)
fig.text(fx(604), fy(1187), "Month", ha="center", va="center", fontsize=22)

# panel names
fig.text(fx(222), fy(248), "GCC", ha="center", va="center", fontsize=22, fontweight="bold")
fig.text(fx(295), fy(465), "Air temperature", ha="center", va="center", fontsize=22, fontweight="bold")
fig.text(fx(297), fy(782), "GPI", ha="center", va="center", fontsize=22, fontweight="bold")
fig.text(fx(343), fy(977), "Albedo", ha="center", va="center", fontsize=22, fontweight="bold")

handles = [mpatches.Patch(facecolor="black", edgecolor="#555555", label="2014"),
           mpatches.Patch(facecolor="red", edgecolor="#555555", label="2015")]
leg = ax_a.legend(handles=handles, loc="upper left", bbox_to_anchor=(fx(180), fy(55)),
                  bbox_transform=fig.transFigure, borderaxespad=0, fontsize=23, frameon=True,
                  fancybox=False, handlelength=2.7, handleheight=0.7, handletextpad=0.3,
                  borderpad=0.6, labelspacing=0.5)
leg.get_frame().set_edgecolor("black")
leg.get_frame().set_linewidth(1.5)

fig.savefig("out.png", dpi=100)
